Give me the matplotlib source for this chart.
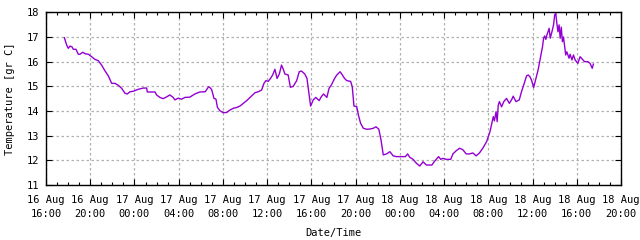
import numpy as np
import matplotlib
matplotlib.use('Agg')
import matplotlib.pyplot as plt
from matplotlib.ticker import MultipleLocator

plt.rcParams['font.family'] = 'DejaVu Sans Mono'
plt.rcParams['font.size'] = 7.5

# Stunden seit 16 Aug 16:00
hours = [
    1.66, 1.87, 2.02, 2.17, 2.35, 2.47, 2.71, 2.92, 3.07, 3.32, 3.53, 3.83,
    4.13, 4.43, 4.73, 5.03, 5.33, 5.64, 5.94, 6.24, 6.54, 6.84, 7.14, 7.35,
    7.6, 7.9, 8.35, 8.8, 9.1, 9.16, 9.86, 10.0, 10.3, 10.6, 10.9, 11.2,
    11.5, 11.66, 11.96, 12.27, 12.57, 13.0, 13.47, 13.9, 14.4, 14.7, 14.8, 14.98,
    15.19, 15.37, 15.5, 15.73, 16.03, 16.34, 16.64, 16.94, 17.24, 17.54, 17.84, 18.15,
    18.45, 18.69, 18.9, 19.2, 19.5, 19.71, 19.89, 20.1, 20.3, 20.5, 20.7, 20.9,
    21.1, 21.3, 21.46, 21.6, 21.9, 22.1, 22.36, 22.67, 22.9, 23.1, 23.4, 23.6,
    23.93, 24.17, 24.4, 24.7, 24.9, 25.1, 25.4, 25.6, 25.8, 26.1, 26.3, 26.6,
    26.8, 27.0, 27.2, 27.55, 27.7, 27.85, 28.1, 28.25, 28.45, 28.7, 29.0, 29.3,
    29.6, 29.84, 30.1, 30.3, 30.5, 30.8, 31.1, 31.4, 31.7, 32.2, 32.5, 32.7,
    32.9, 33.2, 33.5, 33.8, 34.1, 34.4, 34.9, 35.1, 35.5, 35.7, 35.9, 36.2,
    36.6, 36.8, 37.1, 37.4, 37.7, 38.0, 38.3, 38.6, 38.9, 39.2, 39.5, 39.85,
    40.15, 40.35, 40.45, 40.55, 40.7, 40.8, 40.9, 41.0, 41.2, 41.4, 41.65, 41.9,
    42.1, 42.25, 42.5, 42.8, 43.0, 43.2, 43.46, 43.6, 43.75, 43.9, 44.1, 44.3,
    44.5, 44.7, 44.9, 45.0, 45.1, 45.2, 45.3, 45.5, 45.6, 45.75, 45.9, 46.0,
    46.1, 46.2, 46.3, 46.4, 46.5, 46.6, 46.7, 46.8, 47.0, 47.1, 47.3, 47.4,
    47.56, 47.7, 47.85, 48.1, 48.3, 48.5, 48.7, 49.0, 49.2, 49.4, 49.5,
]
temps = [
    16.97, 16.67, 16.54, 16.63, 16.6, 16.5, 16.5, 16.3, 16.3, 16.38, 16.32, 16.3,
    16.2, 16.09, 16.04, 15.86, 15.63, 15.42, 15.12, 15.12, 15.04, 14.92, 14.72, 14.69,
    14.78, 14.8, 14.88, 14.93, 14.93, 14.77, 14.77, 14.65, 14.55, 14.5, 14.57, 14.65,
    14.55, 14.45, 14.52, 14.48, 14.55, 14.56, 14.69, 14.77, 14.78, 14.98, 14.96, 14.87,
    14.51, 14.48, 14.15, 14.01, 13.93, 13.94, 14.04, 14.11, 14.14, 14.2, 14.31, 14.42,
    14.55, 14.65, 14.74, 14.78, 14.85, 15.12, 15.23, 15.2, 15.32, 15.46, 15.69, 15.32,
    15.5, 15.86, 15.69, 15.5, 15.46, 14.96, 15.0, 15.23, 15.59, 15.62, 15.5, 15.32,
    14.2, 14.45, 14.55, 14.42, 14.58, 14.69, 14.55, 14.92, 15.05, 15.32, 15.46, 15.59,
    15.46, 15.32, 15.23, 15.2, 14.97, 14.2, 14.18, 13.84, 13.5, 13.3, 13.26, 13.27,
    13.3, 13.36, 13.26, 12.82, 12.22, 12.26, 12.35, 12.18, 12.15, 12.15, 12.15, 12.26,
    12.12, 12.04, 11.88, 11.77, 11.94, 11.81, 11.81, 11.94, 12.15, 12.04, 12.08, 12.04,
    12.04, 12.26, 12.39, 12.49, 12.43, 12.26, 12.26, 12.3, 12.18, 12.3, 12.49, 12.76,
    13.16, 13.57, 13.77, 13.6, 13.97, 13.57, 14.24, 14.38, 14.17, 14.38, 14.51, 14.31,
    14.45, 14.6, 14.38, 14.45, 14.78, 15.05, 15.42, 15.46, 15.4, 15.26, 14.95, 15.3,
    15.66, 16.14, 16.6, 16.95, 17.04, 16.9, 17.08, 17.35, 16.95, 17.2, 17.49, 17.89,
    17.96, 17.55, 17.21, 17.49, 16.95, 17.4, 16.81, 17.0, 16.27, 16.4, 16.14, 16.3,
    16.07, 16.27, 16.07, 15.93, 16.2, 16.1, 16.0, 16.0, 15.93, 15.73, 15.9,
]

tick_labels = [
    '16 Aug\n16:00', '16 Aug\n20:00', '17 Aug\n00:00', '17 Aug\n04:00',
    '17 Aug\n08:00', '17 Aug\n12:00', '17 Aug\n16:00', '17 Aug\n20:00',
    '18 Aug\n00:00', '18 Aug\n04:00', '18 Aug\n08:00', '18 Aug\n12:00',
    '18 Aug\n16:00', '18 Aug\n20:00',
]
tick_pos = np.arange(len(tick_labels)) * 4

fig = plt.figure(figsize=(6.4, 2.4), dpi=100)
ax = fig.add_axes([46 / 640, 55 / 240, 575 / 640, 172.7 / 240])

ax.plot(hours, temps, color='#9400d3', linewidth=1.0)

ax.set_xlim(0, 52)
ax.set_ylim(11, 18)
ax.set_xticks(tick_pos)
ax.set_xticklabels(tick_labels, linespacing=1.5)
ax.xaxis.set_minor_locator(MultipleLocator(1))
ax.set_yticks(range(11, 19))

ax.grid(True, which='major', color='#b0b0b0', linestyle=(0, (2, 2)), linewidth=0.9)
ax.tick_params(which='both', direction='in', top=True, right=True, colors='black')
ax.tick_params(which='major', length=4, width=0.8)
ax.tick_params(axis='x', which='major', pad=7)
ax.tick_params(axis='y', which='major', pad=5)
ax.tick_params(which='minor', length=2, width=0.8)
for s in ax.spines.values():
    s.set_linewidth(1.0)

ax.set_xlabel('Date/Time', labelpad=7)
ax.set_ylabel('Temperature [gr C]', labelpad=8)

fig.savefig('out.png', dpi=100)
